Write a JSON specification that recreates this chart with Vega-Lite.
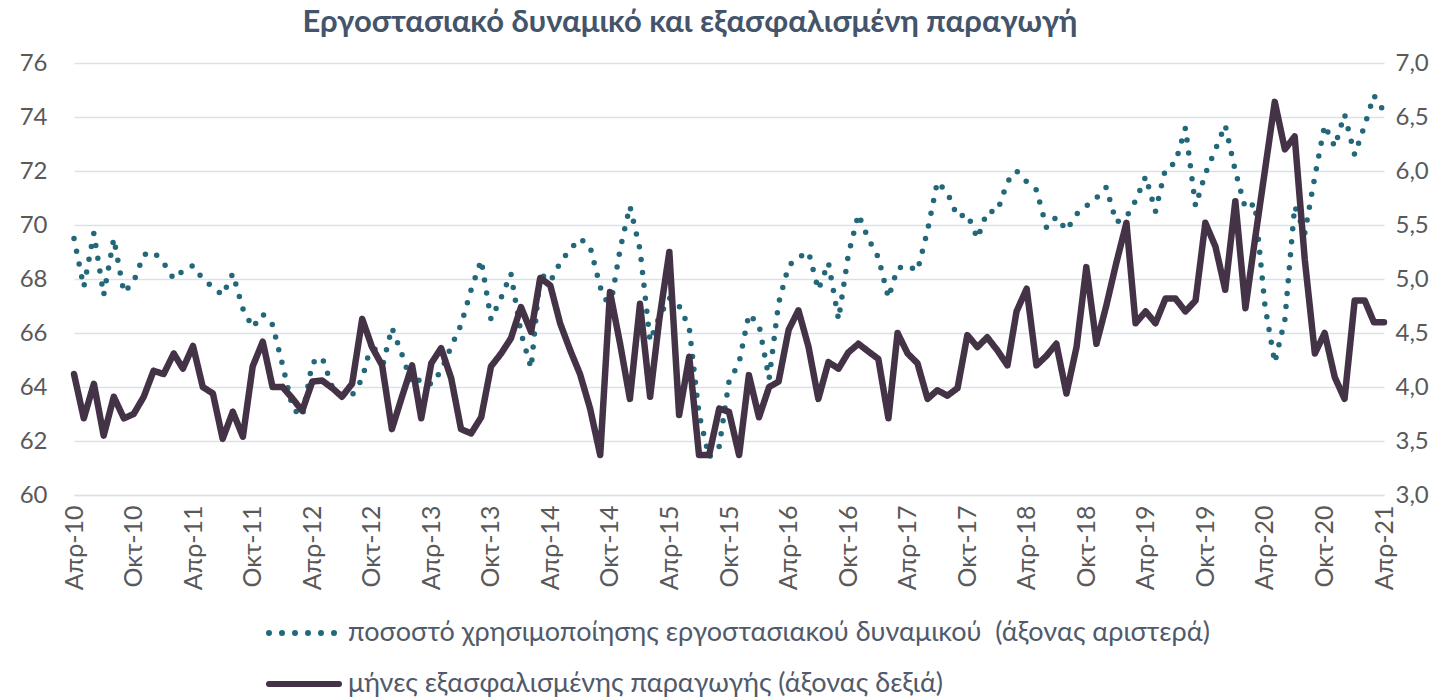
{
  "$schema": "https://vega.github.io/schema/vega-lite/v6.json",
  "width": 1310,
  "height": 432,
  "autosize": {"type": "none"},
  "padding": {"left": 74, "top": 63, "right": 69, "bottom": 203},
  "background": "white",
  "title": {
    "text": "Εργοστασιακό δυναμικό και εξασφαλισμένη παραγωγή",
    "font": "Lato",
    "fontSize": 31,
    "fontWeight": "bold",
    "color": "#44546A",
    "anchor": "middle",
    "dx": -39,
    "offset": 12
  },
  "data": {
    "values": [
      {"d":"2010-04-01","u":69.5,"m":4.12},
      {"d":"2010-05-01","u":67.7,"m":3.71},
      {"d":"2010-06-01","u":69.7,"m":4.03},
      {"d":"2010-07-01","u":67.4,"m":3.55},
      {"d":"2010-08-01","u":69.5,"m":3.91},
      {"d":"2010-09-01","u":67.5,"m":3.71},
      {"d":"2010-10-01","u":67.9,"m":3.75},
      {"d":"2010-11-01","u":68.9,"m":3.91},
      {"d":"2010-12-01","u":69.0,"m":4.15},
      {"d":"2011-01-01","u":68.6,"m":4.12},
      {"d":"2011-02-01","u":68.0,"m":4.31},
      {"d":"2011-03-01","u":68.3,"m":4.17},
      {"d":"2011-04-01","u":68.5,"m":4.38},
      {"d":"2011-05-01","u":68.0,"m":4.00},
      {"d":"2011-06-01","u":67.7,"m":3.94},
      {"d":"2011-07-01","u":67.4,"m":3.52},
      {"d":"2011-08-01","u":68.2,"m":3.77},
      {"d":"2011-09-01","u":66.9,"m":3.54},
      {"d":"2011-10-01","u":66.2,"m":4.19},
      {"d":"2011-11-01","u":66.7,"m":4.42},
      {"d":"2011-12-01","u":66.3,"m":4.00},
      {"d":"2012-01-01","u":64.8,"m":4.00},
      {"d":"2012-02-01","u":63.2,"m":3.89},
      {"d":"2012-03-01","u":62.9,"m":3.78},
      {"d":"2012-04-01","u":64.9,"m":4.05},
      {"d":"2012-05-01","u":65.1,"m":4.06},
      {"d":"2012-06-01","u":64.0,"m":3.99},
      {"d":"2012-07-01","u":63.7,"m":3.91},
      {"d":"2012-08-01","u":63.7,"m":4.03},
      {"d":"2012-09-01","u":64.3,"m":4.63},
      {"d":"2012-10-01","u":65.7,"m":4.37},
      {"d":"2012-11-01","u":64.7,"m":4.20},
      {"d":"2012-12-01","u":66.2,"m":3.61},
      {"d":"2013-01-01","u":65.2,"m":3.91},
      {"d":"2013-02-01","u":64.1,"m":4.20},
      {"d":"2013-03-01","u":64.3,"m":3.71},
      {"d":"2013-04-01","u":64.1,"m":4.22},
      {"d":"2013-05-01","u":64.6,"m":4.36},
      {"d":"2013-06-01","u":65.5,"m":4.08},
      {"d":"2013-07-01","u":66.3,"m":3.61},
      {"d":"2013-08-01","u":67.6,"m":3.57},
      {"d":"2013-09-01","u":68.7,"m":3.72},
      {"d":"2013-10-01","u":66.5,"m":4.19},
      {"d":"2013-11-01","u":67.3,"m":4.31},
      {"d":"2013-12-01","u":68.2,"m":4.45},
      {"d":"2014-01-01","u":66.0,"m":4.74},
      {"d":"2014-02-01","u":64.7,"m":4.51},
      {"d":"2014-03-01","u":68.2,"m":5.01},
      {"d":"2014-04-01","u":67.9,"m":4.94},
      {"d":"2014-05-01","u":68.6,"m":4.59},
      {"d":"2014-06-01","u":69.1,"m":4.34},
      {"d":"2014-07-01","u":69.5,"m":4.12},
      {"d":"2014-08-01","u":69.2,"m":3.80},
      {"d":"2014-09-01","u":67.7,"m":3.37},
      {"d":"2014-10-01","u":66.9,"m":4.88},
      {"d":"2014-11-01","u":69.1,"m":4.40},
      {"d":"2014-12-01","u":70.7,"m":3.89},
      {"d":"2015-01-01","u":69.1,"m":4.77},
      {"d":"2015-02-01","u":65.7,"m":3.91},
      {"d":"2015-03-01","u":66.6,"m":4.62},
      {"d":"2015-04-01","u":67.3,"m":5.25},
      {"d":"2015-05-01","u":67.0,"m":3.74},
      {"d":"2015-06-01","u":66.2,"m":4.28},
      {"d":"2015-07-01","u":63.0,"m":3.37},
      {"d":"2015-08-01","u":61.4,"m":3.37},
      {"d":"2015-09-01","u":61.8,"m":3.80},
      {"d":"2015-10-01","u":64.2,"m":3.77},
      {"d":"2015-11-01","u":64.9,"m":3.37},
      {"d":"2015-12-01","u":66.7,"m":4.11},
      {"d":"2016-01-01","u":66.3,"m":3.72},
      {"d":"2016-02-01","u":64.3,"m":4.00},
      {"d":"2016-03-01","u":67.1,"m":4.05},
      {"d":"2016-04-01","u":68.5,"m":4.53},
      {"d":"2016-05-01","u":68.8,"m":4.71},
      {"d":"2016-06-01","u":69.0,"m":4.37},
      {"d":"2016-07-01","u":67.6,"m":3.89},
      {"d":"2016-08-01","u":68.6,"m":4.23},
      {"d":"2016-09-01","u":66.5,"m":4.17},
      {"d":"2016-10-01","u":68.9,"m":4.32},
      {"d":"2016-11-01","u":70.4,"m":4.40},
      {"d":"2016-12-01","u":69.5,"m":4.33},
      {"d":"2017-01-01","u":68.8,"m":4.26},
      {"d":"2017-02-01","u":67.3,"m":3.71},
      {"d":"2017-03-01","u":68.4,"m":4.50},
      {"d":"2017-04-01","u":68.5,"m":4.31},
      {"d":"2017-05-01","u":68.3,"m":4.22},
      {"d":"2017-06-01","u":69.8,"m":3.89},
      {"d":"2017-07-01","u":71.6,"m":3.97},
      {"d":"2017-08-01","u":71.2,"m":3.92},
      {"d":"2017-09-01","u":70.3,"m":3.99},
      {"d":"2017-10-01","u":70.4,"m":4.48},
      {"d":"2017-11-01","u":69.5,"m":4.37},
      {"d":"2017-12-01","u":70.5,"m":4.46},
      {"d":"2018-01-01","u":70.5,"m":4.34},
      {"d":"2018-02-01","u":71.6,"m":4.20},
      {"d":"2018-03-01","u":72.0,"m":4.70},
      {"d":"2018-04-01","u":71.6,"m":4.91},
      {"d":"2018-05-01","u":71.3,"m":4.20},
      {"d":"2018-06-01","u":69.9,"m":4.29},
      {"d":"2018-07-01","u":70.3,"m":4.40},
      {"d":"2018-08-01","u":69.8,"m":3.94},
      {"d":"2018-09-01","u":70.4,"m":4.37},
      {"d":"2018-10-01","u":70.7,"m":5.11},
      {"d":"2018-11-01","u":71.0,"m":4.40},
      {"d":"2018-12-01","u":71.4,"m":4.75},
      {"d":"2019-01-01","u":70.1,"m":5.15},
      {"d":"2019-02-01","u":70.3,"m":5.52},
      {"d":"2019-03-01","u":70.9,"m":4.59},
      {"d":"2019-04-01","u":71.8,"m":4.70},
      {"d":"2019-05-01","u":70.5,"m":4.59},
      {"d":"2019-06-01","u":72.1,"m":4.82},
      {"d":"2019-07-01","u":72.3,"m":4.82},
      {"d":"2019-08-01","u":73.6,"m":4.70},
      {"d":"2019-09-01","u":70.7,"m":4.80},
      {"d":"2019-10-01","u":71.9,"m":5.52},
      {"d":"2019-11-01","u":72.8,"m":5.30},
      {"d":"2019-12-01","u":73.7,"m":4.90},
      {"d":"2020-01-01","u":72.0,"m":5.72},
      {"d":"2020-02-01","u":70.6,"m":4.73},
      {"d":"2020-03-01","u":70.8,"m":5.36},
      {"d":"2020-04-01","u":67.0,"m":6.01},
      {"d":"2020-05-01","u":64.9,"m":6.64},
      {"d":"2020-06-01","u":66.5,"m":6.20},
      {"d":"2020-07-01","u":70.7,"m":6.32},
      {"d":"2020-08-01","u":69.7,"m":5.18},
      {"d":"2020-09-01","u":71.8,"m":4.31},
      {"d":"2020-10-01","u":73.7,"m":4.50},
      {"d":"2020-11-01","u":72.9,"m":4.09},
      {"d":"2020-12-01","u":74.1,"m":3.89},
      {"d":"2021-01-01","u":72.6,"m":4.80},
      {"d":"2021-02-01","u":73.7,"m":4.80},
      {"d":"2021-03-01","u":74.8,"m":4.60},
      {"d":"2021-04-01","u":74.2,"m":4.60}
    ]
  },
  "transform": [{"fold": ["u", "m"], "as": ["s", "v"]}],
  "encoding": {
    "x": {
      "field": "d",
      "type": "temporal",
      "scale": {
        "type": "utc",
        "domain": [
          {"year": 2010, "month": 4, "date": 1, "utc": true},
          {"year": 2021, "month": 4, "date": 1, "utc": true}
        ]
      },
      "axis": {
        "title": null,
        "values": [
          {"year": 2010, "month": 4, "date": 1, "utc": true},
          {"year": 2010, "month": 10, "date": 1, "utc": true},
          {"year": 2011, "month": 4, "date": 1, "utc": true},
          {"year": 2011, "month": 10, "date": 1, "utc": true},
          {"year": 2012, "month": 4, "date": 1, "utc": true},
          {"year": 2012, "month": 10, "date": 1, "utc": true},
          {"year": 2013, "month": 4, "date": 1, "utc": true},
          {"year": 2013, "month": 10, "date": 1, "utc": true},
          {"year": 2014, "month": 4, "date": 1, "utc": true},
          {"year": 2014, "month": 10, "date": 1, "utc": true},
          {"year": 2015, "month": 4, "date": 1, "utc": true},
          {"year": 2015, "month": 10, "date": 1, "utc": true},
          {"year": 2016, "month": 4, "date": 1, "utc": true},
          {"year": 2016, "month": 10, "date": 1, "utc": true},
          {"year": 2017, "month": 4, "date": 1, "utc": true},
          {"year": 2017, "month": 10, "date": 1, "utc": true},
          {"year": 2018, "month": 4, "date": 1, "utc": true},
          {"year": 2018, "month": 10, "date": 1, "utc": true},
          {"year": 2019, "month": 4, "date": 1, "utc": true},
          {"year": 2019, "month": 10, "date": 1, "utc": true},
          {"year": 2020, "month": 4, "date": 1, "utc": true},
          {"year": 2020, "month": 10, "date": 1, "utc": true},
          {"year": 2021, "month": 4, "date": 1, "utc": true}
        ],
        "labelExpr": "(utcmonth(datum.value) == 3 ? 'Απρ-' : 'Οκτ-') + utcFormat(datum.value, '%y')",
        "labelAngle": -90,
        "labelFontSize": 25,
        "labelColor": "#595959",
        "labelPadding": 10,
        "labelOverlap": false,
        "labelFlush": false,
        "labelBound": false,
        "ticks": false,
        "grid": false,
        "domain": true,
        "domainColor": "#DDE1E6",
        "domainWidth": 1.5
      }
    }
  },
  "layer": [
    {
      "transform": [{"filter": "datum.s == 'u'"}],
      "mark": {"type": "line", "strokeCap": "round", "strokeJoin": "round", "strokeWidth": 5.5},
      "encoding": {
        "y": {
          "field": "v",
          "type": "quantitative",
          "scale": {"domain": [60, 76], "nice": false, "zero": false},
          "axis": {
            "orient": "left",
            "title": null,
            "values": [60, 62, 64, 66, 68, 70, 72, 74, 76],
            "grid": true,
            "gridColor": "#DDE1E6",
            "gridWidth": 1.5,
            "ticks": false,
            "domain": false,
            "labelFontSize": 24,
            "labelColor": "#595959",
            "labelPadding": 27
          }
        },
        "color": {
          "field": "s",
          "type": "nominal",
          "scale": {"domain": ["u", "m"], "range": ["#22687A", "#443347"]},
          "legend": {
            "title": null,
            "orient": "none",
            "legendX": 192,
            "legendY": 532,
            "direction": "vertical",
            "symbolType": "stroke",
            "symbolSize": 4900,
            "symbolStrokeWidth": 6,
            "labelFontSize": 27,
            "labelColor": "#505A6B",
            "labelLimit": 1200,
            "labelOffset": 6,
            "rowPadding": -19,
            "labelExpr": "datum.value == 'u' ? 'ποσοστό χρησιμοποίησης εργοστασιακού δυναμικού\u00a0 (άξονας αριστερά)' : 'μήνες εξασφαλισμένης παραγωγής (άξονας δεξιά)'",
            "encode": {"symbols": {"update": {"strokeCap": {"value": "round"}}}}
          }
        },
        "strokeDash": {
          "field": "s",
          "type": "nominal",
          "scale": {"domain": ["u", "m"], "range": [[0, 13], [1, 0]]}
        }
      }
    },
    {
      "transform": [{"filter": "datum.s == 'm'"}],
      "mark": {"type": "line", "strokeCap": "round", "strokeJoin": "round", "strokeWidth": 6.5},
      "encoding": {
        "y": {
          "field": "v",
          "type": "quantitative",
          "scale": {"domain": [3, 7], "nice": false, "zero": false},
          "axis": {
            "orient": "right",
            "title": null,
            "values": [3, 3.5, 4, 4.5, 5, 5.5, 6, 6.5, 7],
            "labelExpr": "replace(format(datum.value, '.1f'), '.', ',')",
            "grid": false,
            "ticks": false,
            "domain": false,
            "labelFontSize": 24,
            "labelColor": "#595959",
            "labelPadding": 11
          }
        },
        "color": {
          "field": "s",
          "type": "nominal",
          "scale": {"domain": ["u", "m"], "range": ["#22687A", "#443347"]}
        },
        "strokeDash": {
          "field": "s",
          "type": "nominal",
          "scale": {"domain": ["u", "m"], "range": [[0, 13], [1, 0]]}
        }
      }
    }
  ],
  "resolve": {"scale": {"y": "independent"}},
  "config": {
    "font": "Lato",
    "view": {"stroke": null}
  }
}
